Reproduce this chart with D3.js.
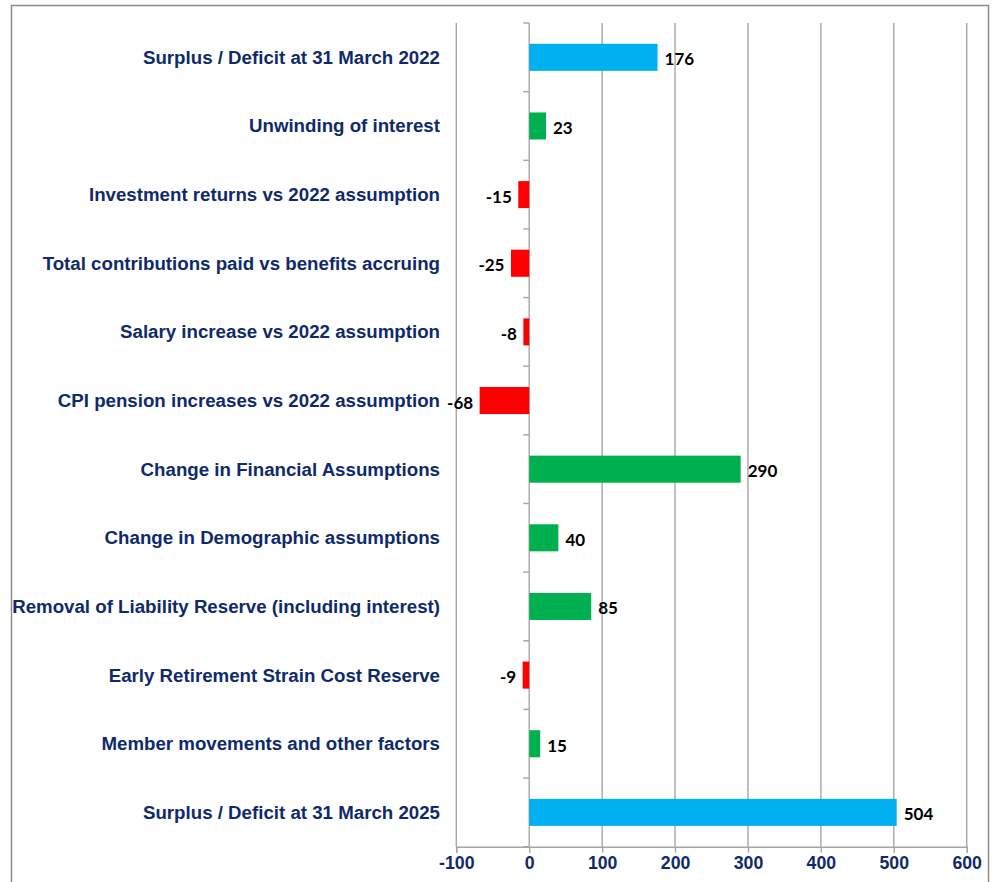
<!DOCTYPE html>
<html>
<head>
<meta charset="utf-8">
<script src="https://cdn.jsdelivr.net/npm/d3@7/dist/d3.min.js"></script>
<style>
  html, body { margin: 0; padding: 0; background: #ffffff; }
  svg { display: block; }
</style>
</head>
<body>
<svg id="chart" width="994" height="882"></svg>
<script>
const categories = [
  "Surplus / Deficit at 31 March 2022",
  "Unwinding of interest",
  "Investment returns vs 2022 assumption",
  "Total contributions paid vs benefits accruing",
  "Salary increase vs 2022 assumption",
  "CPI pension increases vs 2022 assumption",
  "Change in Financial Assumptions",
  "Change in Demographic assumptions",
  "Removal of Liability Reserve (including interest)",
  "Early Retirement Strain Cost Reserve",
  "Member movements and other factors",
  "Surplus / Deficit at 31 March 2025"
];
const values = [176, 23, -15, -25, -8, -68, 290, 40, 85, -9, 15, 504];
const barKind = ["total", "change", "change", "change", "change", "change", "change", "change", "change", "change", "change", "total"];
const xTicks = [-100, 0, 100, 200, 300, 400, 500, 600];

const colors = { total: "#00b0f0", pos: "#00b050", neg: "#ff0000" };
const navy = "#0f2a6b";
const gridColor = "#a6a6a6";

const svg = d3.select("#chart");

// outer border
svg.append("rect")
  .attr("x", 11.5).attr("y", 5.5)
  .attr("width", 977).attr("height", 900)
  .attr("fill", "none").attr("stroke", "#8c8c8c").attr("stroke-width", 1.5);

const plot = { left: 456.3, right: 966.7, top: 23, bottom: 846.7 };

const x = d3.scaleLinear().domain([-100, 600]).range([plot.left, plot.right]);
const y = d3.scaleBand().domain(categories)
  .range([plot.top, plot.bottom])
  .paddingInner(0.606).paddingOuter(0.303);

// gridlines
svg.append("g").selectAll("line").data(xTicks).join("line")
  .attr("x1", d => x(d)).attr("x2", d => x(d))
  .attr("y1", plot.top).attr("y2", plot.bottom)
  .attr("stroke", gridColor).attr("stroke-width", 1.4);

// bottom axis
const xAxis = d3.axisBottom(x).tickValues(xTicks).tickSize(6).tickPadding(6).tickFormat(d => String(d));
const gx = svg.append("g").attr("transform", `translate(0,${plot.bottom})`).call(xAxis);
gx.select(".domain").attr("stroke", gridColor).attr("stroke-width", 1.4);
gx.selectAll(".tick line").attr("stroke", gridColor).attr("stroke-width", 1.4);
gx.selectAll(".tick text")
  .attr("fill", navy)
  .attr("font-family", "'Liberation Sans', Arial, sans-serif")
  .attr("font-weight", "bold")
  .attr("font-size", "17.7px")
  .attr("dy", "0.95em")
  .attr("y", 6);
gx.selectAll(".tick text").attr("transform", "translate(0,-1)");

// category axis ticks at x = 0 (between categories)
const step = y.step();
const boundaries = d3.range(0, categories.length + 1).map(i => plot.top + i * step);
svg.append("g").selectAll("line").data(boundaries).join("line")
  .attr("x1", x(0) - 6).attr("x2", x(0))
  .attr("y1", d => d).attr("y2", d => d)
  .attr("stroke", gridColor).attr("stroke-width", 1.4);

// bars
const data = categories.map((c, i) => ({ cat: c, v: values[i], kind: barKind[i] }));
svg.append("g").selectAll("rect").data(data).join("rect")
  .attr("x", d => x(Math.min(0, d.v)))
  .attr("width", d => Math.abs(x(d.v) - x(0)))
  .attr("y", d => y(d.cat))
  .attr("height", y.bandwidth())
  .attr("fill", d => d.kind === "total" ? colors.total : (d.v >= 0 ? colors.pos : colors.neg));

// value labels
svg.append("g").selectAll("text").data(data).join("text")
  .attr("x", d => d.v >= 0 ? x(d.v) + 7 : x(d.v) - 6.5)
  .attr("y", d => y(d.cat) + y.bandwidth() / 2 + 1.5)
  .attr("text-anchor", d => d.v >= 0 ? "start" : "end")
  .attr("dominant-baseline", "central")
  .attr("font-family", "Lato, 'Open Sans', sans-serif")
  .attr("font-weight", "bold")
  .attr("font-size", "17px")
  .attr("fill", "#000000")
  .text(d => String(d.v));

// category labels
svg.append("g").selectAll("text").data(categories).join("text")
  .attr("x", 440)
  .attr("y", d => y(d) + y.bandwidth() / 2)
  .attr("text-anchor", "end")
  .attr("dominant-baseline", "central")
  .attr("font-family", "'Liberation Sans', Arial, sans-serif")
  .attr("font-weight", "bold")
  .attr("font-size", "18.7px")
  .attr("fill", navy)
  .text(d => d);
</script>
</body>
</html>
